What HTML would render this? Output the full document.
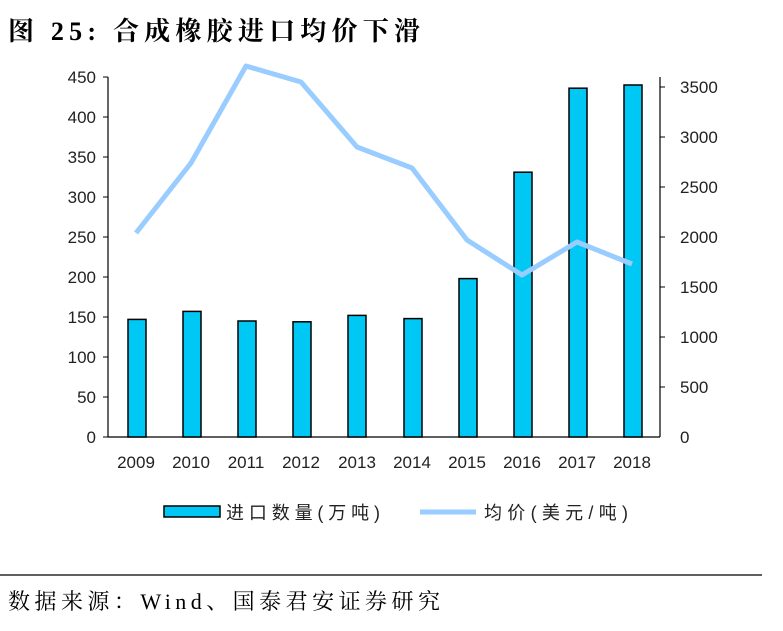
<!DOCTYPE html>
<html><head><meta charset="utf-8"><style>
body{margin:0;background:#fff;width:783px;height:626px;overflow:hidden;font-family:"Liberation Sans","Noto Sans CJK SC",sans-serif}
</style></head><body>
<svg width="783" height="626" xmlns="http://www.w3.org/2000/svg" font-family="Liberation Sans, Noto Sans CJK SC, sans-serif">
<text x="8" y="40" font-size="26" font-weight="bold" font-family="Liberation Serif, Noto Serif CJK SC, serif" textLength="412" lengthAdjust="spacing">图 25:  合成橡胶进口均价下滑</text>
<g stroke="#000" stroke-width="1.2">
<line x1="108" y1="77" x2="108" y2="437"/>
<line x1="660" y1="77" x2="660" y2="437"/>
<line x1="108" y1="437" x2="660" y2="437"/>
</g>
<g font-size="17" fill="#222" text-anchor="end">
<text x="96" y="83">450</text><text x="96" y="123">400</text><text x="96" y="163">350</text><text x="96" y="203">300</text><text x="96" y="243">250</text><text x="96" y="283">200</text><text x="96" y="323">150</text><text x="96" y="363">100</text><text x="96" y="403">50</text><text x="96" y="443">0</text>
</g>
<g stroke="#000"><line x1="103" y1="77" x2="108" y2="77"/><line x1="103" y1="117" x2="108" y2="117"/><line x1="103" y1="157" x2="108" y2="157"/><line x1="103" y1="197" x2="108" y2="197"/><line x1="103" y1="237" x2="108" y2="237"/><line x1="103" y1="277" x2="108" y2="277"/><line x1="103" y1="317" x2="108" y2="317"/><line x1="103" y1="357" x2="108" y2="357"/><line x1="103" y1="397" x2="108" y2="397"/><line x1="103" y1="437" x2="108" y2="437"/>
<line x1="660" y1="87" x2="665" y2="87"/><line x1="660" y1="137" x2="665" y2="137"/><line x1="660" y1="187" x2="665" y2="187"/><line x1="660" y1="237" x2="665" y2="237"/><line x1="660" y1="287" x2="665" y2="287"/><line x1="660" y1="337" x2="665" y2="337"/><line x1="660" y1="387" x2="665" y2="387"/></g>
<g font-size="17" fill="#222">
<text x="680" y="93">3500</text><text x="680" y="143">3000</text><text x="680" y="193">2500</text><text x="680" y="243">2000</text><text x="680" y="293">1500</text><text x="680" y="343">1000</text><text x="680" y="393">500</text><text x="680" y="443">0</text>
</g>
<g fill="#00c8f5" stroke="#000" stroke-width="1.5">
<rect x="128" y="319.4" width="18" height="117.6"/>
<rect x="183" y="311.4" width="18" height="125.6"/>
<rect x="238" y="321" width="18" height="116"/>
<rect x="293" y="321.8" width="18" height="115.2"/>
<rect x="348" y="315.4" width="18" height="121.6"/>
<rect x="404" y="318.6" width="18" height="118.4"/>
<rect x="459" y="278.6" width="18" height="158.4"/>
<rect x="514" y="172.2" width="18" height="264.8"/>
<rect x="569" y="88.2" width="18" height="348.8"/>
<rect x="624" y="85" width="18" height="352"/>
</g>
<polyline fill="none" stroke="#99ccff" stroke-width="5" stroke-linejoin="round" points="136,233 191,163 246,66 301,82 357,147 412,168 467,240 522,275 577,242 632,264"/>
<g font-size="17" fill="#222" text-anchor="middle">
<text x="136" y="468">2009</text><text x="191" y="468">2010</text><text x="246" y="468">2011</text><text x="301" y="468">2012</text><text x="357" y="468">2013</text><text x="412" y="468">2014</text><text x="467" y="468">2015</text><text x="522" y="468">2016</text><text x="577" y="468">2017</text><text x="632" y="468">2018</text>
</g>
<rect x="164" y="506" width="56" height="11" fill="#00c8f5" stroke="#000" stroke-width="1.5"/>
<text x="226" y="519" font-size="18" fill="#222" textLength="154" lengthAdjust="spacing">进口数量(万吨)</text>
<line x1="420" y1="512" x2="476" y2="512" stroke="#99ccff" stroke-width="5"/>
<text x="484" y="519" font-size="18" fill="#222" textLength="144" lengthAdjust="spacing">均价(美元/吨)</text>
<line x1="0" y1="575" x2="762" y2="575" stroke="#000" stroke-width="1.2"/>
<text x="8" y="609" font-size="22" font-family="Liberation Serif, Noto Serif CJK SC, serif" textLength="432" lengthAdjust="spacing">数据来源：Wind、国泰君安证券研究</text>
</svg>
</body></html>
